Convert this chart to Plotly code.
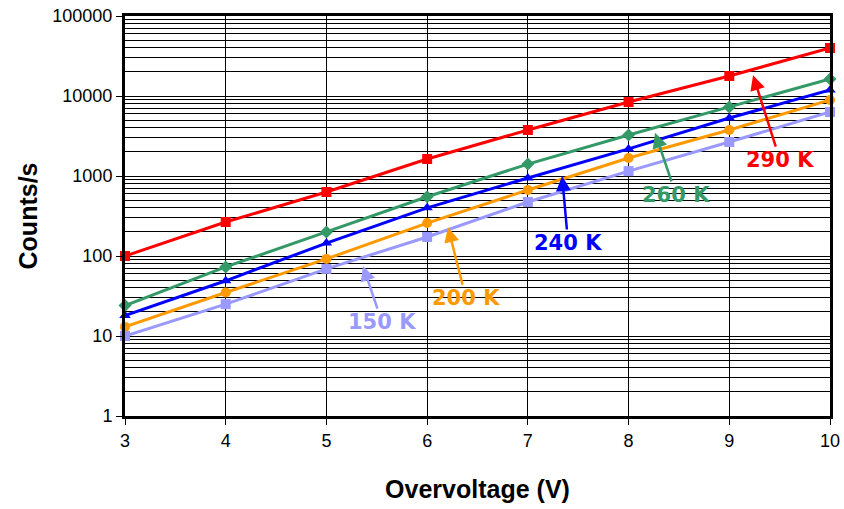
import plotly.graph_objects as go

voltage = [3, 4, 5, 6, 7, 8, 9, 10]
counts_290K = [100, 266, 631, 1630, 3760, 8400, 17800, 39800]
counts_260K = [24, 73, 200, 550, 1410, 3250, 7300, 16300]
counts_240K = [18, 49, 145, 400, 944, 2180, 5300, 11900]
counts_200K = [13, 35, 92, 258, 668, 1680, 3760, 8900]
counts_150K = [10, 25, 69, 173, 473, 1150, 2660, 6300]

series = [
    ("290 K", counts_290K, "#FF0000", "square"),
    ("260 K", counts_260K, "#339966", "diamond"),
    ("240 K", counts_240K, "#0000FF", "triangle-up"),
    ("200 K", counts_200K, "#FF9900", "circle"),
    ("150 K", counts_150K, "#9999FF", "square"),
]

fig = go.Figure()
for name, vals, col, sym in series:
    fig.add_trace(go.Scatter(x=voltage, y=vals, mode="lines+markers", name=name,
                             line=dict(color=col, width=3),
                             marker=dict(color=col, symbol=sym, size=10),
                             cliponaxis=False))

# label annotations: (text, head x, head log10 y, ax, ay, colour)
labels = [
    ("290 K", 9.236, 4.26, 27, 85, "#FF0000"),
    ("260 K", 8.263, 3.54, 21, 62, "#339966"),
    ("240 K", 7.34, 3.0, 6, 67, "#0000FF"),
    ("200 K", 6.207, 2.36, 18, 71, "#FF9900"),
    ("150 K", 5.363, 1.875, 19, 56, "#9999FF"),
]
for txt, hx, hy, ax, ay, col in labels:
    fig.add_annotation(x=hx, y=hy, xref="x", yref="y", text="<b>%s</b>" % txt,
                       showarrow=True, arrowhead=2, arrowsize=1.2, arrowwidth=2.5,
                       arrowcolor=col, ax=ax, ay=ay,
                       font=dict(family="DejaVu Sans", size=21, color=col))

fig.update_layout(
    width=844, height=509,
    margin=dict(l=125, r=14, t=16, b=93),
    paper_bgcolor="white", plot_bgcolor="white",
    showlegend=False,
    font=dict(family="Liberation Sans", color="black"),
)
fig.update_xaxes(range=[3, 10], dtick=1, tick0=3, automargin=False,
                 ticklabeloverflow="allow",
                 showgrid=True, gridcolor="black", gridwidth=1,
                 showline=True, linecolor="black", linewidth=3, mirror=True,
                 ticks="outside", ticklen=6, tickcolor="black",
                 tickfont=dict(size=18),
                 title=dict(text="<b>Overvoltage (V)</b>", font=dict(size=25), standoff=31),
                 zeroline=False)
fig.update_yaxes(type="log", range=[0, 5], dtick=1, automargin=False,
                 ticklabeloverflow="allow",
                 tickvals=[1, 10, 100, 1000, 10000, 100000],
                 ticktext=["1", "10", "100", "1000", "10000", "100000"],
                 showgrid=True, gridcolor="black", gridwidth=1,
                 minor=dict(dtick="D1", showgrid=True, gridcolor="black", gridwidth=1, ticks=""),
                 showline=True, linecolor="black", linewidth=3, mirror=True,
                 ticks="outside", ticklen=6, tickcolor="black",
                 tickfont=dict(size=18),
                 title=dict(text="<b>Counts/s</b>", font=dict(size=25), standoff=8),
                 zeroline=False)

fig.write_html("out.html", config={"displayModeBar": False},
               post_script="document.body.style.margin='0';document.body.style.overflow='hidden';")
